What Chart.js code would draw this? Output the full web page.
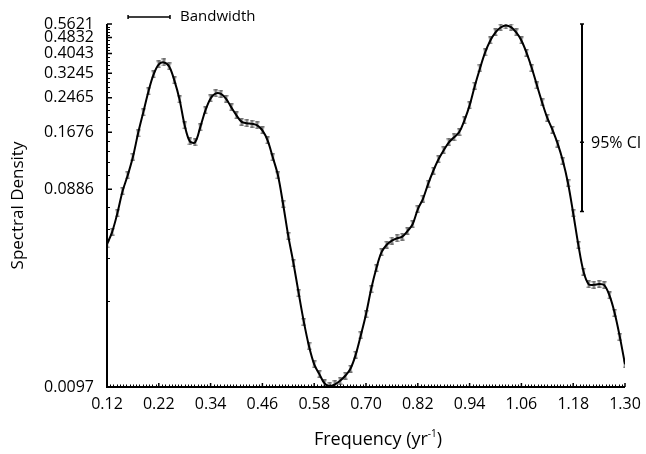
<!DOCTYPE html>
<html lang="en">
<head>
<meta charset="UTF-8">
<title>Spectral Density</title>
<script src="https://cdn.jsdelivr.net/npm/chart.js@4"></script>
<style>
    * { margin: 0; padding: 0; box-sizing: border-box; }
    body { background: #fff; width: 646px; height: 454px; overflow: hidden; }
    .chart-box { position: relative; width: 646px; height: 454px; }
</style>
</head>
<body>
<div class="chart-box"><canvas id="spectrum" width="646" height="454"></canvas></div>
<script>
// frequency grid (yr^-1)
const frequency = [
    0.1200, 0.1318, 0.1436, 0.1554, 0.1672, 0.1790, 0.1908, 0.2026, 0.2144, 0.2262,
    0.2380, 0.2498, 0.2616, 0.2734, 0.2852, 0.2970, 0.3088, 0.3206, 0.3324, 0.3442,
    0.3560, 0.3678, 0.3796, 0.3914, 0.4032, 0.4150, 0.4268, 0.4386, 0.4504, 0.4622,
    0.4740, 0.4858, 0.4976, 0.5094, 0.5212, 0.5330, 0.5448, 0.5566, 0.5684, 0.5802,
    0.5920, 0.6038, 0.6156, 0.6274, 0.6392, 0.6510, 0.6628, 0.6746, 0.6864, 0.6982,
    0.7100, 0.7218, 0.7336, 0.7454, 0.7572, 0.7690, 0.7808, 0.7926, 0.8044, 0.8162,
    0.8280, 0.8398, 0.8516, 0.8634, 0.8752, 0.8870, 0.8988, 0.9106, 0.9224, 0.9342,
    0.9460, 0.9578, 0.9696, 0.9814, 0.9932, 1.0050, 1.0168, 1.0286, 1.0404, 1.0522,
    1.0640, 1.0758, 1.0876, 1.0994, 1.1112, 1.1230, 1.1348, 1.1466, 1.1584, 1.1702,
    1.1820, 1.1938, 1.2056, 1.2174, 1.2292, 1.2410, 1.2528, 1.2646, 1.2764, 1.2882,
    1.3000
];

// spectral density
const density = [
    0.0479, 0.0550, 0.0677, 0.0866, 0.1035, 0.1270, 0.1655, 0.2092, 0.2645, 0.3198,
    0.3576, 0.3657, 0.3497, 0.2991, 0.2419, 0.1809, 0.1513, 0.1497, 0.1770, 0.2139,
    0.2446, 0.2587, 0.2572, 0.2433, 0.2212, 0.2023, 0.1882, 0.1854, 0.1840, 0.1809,
    0.1711, 0.1530, 0.1266, 0.1035, 0.0749, 0.0524, 0.0387, 0.0277, 0.0201, 0.0153,
    0.0125, 0.0112, 0.0101, 0.0098, 0.0100, 0.0104, 0.0110, 0.0119, 0.0139, 0.0173,
    0.0219, 0.0290, 0.0366, 0.0438, 0.0476, 0.0499, 0.0512, 0.0521, 0.0554, 0.0599,
    0.0708, 0.0796, 0.0941, 0.1089, 0.1238, 0.1369, 0.1497, 0.1583, 0.1679, 0.1913,
    0.2262, 0.2813, 0.3420, 0.4089, 0.4675, 0.5124, 0.5406, 0.5529, 0.5424, 0.5112,
    0.4675, 0.4071, 0.3439, 0.2829, 0.2339, 0.1968, 0.1721, 0.1475, 0.1217, 0.0947,
    0.0677, 0.0474, 0.0352, 0.0306, 0.0304, 0.0307, 0.0303, 0.0270, 0.0222, 0.0170,
    0.0125
];

const xTickValues = [0.12, 0.238, 0.356, 0.474, 0.592, 0.71, 0.828, 0.946, 1.064, 1.182, 1.30];
const xTickLabels = ['0.12', '0.22', '0.34', '0.46', '0.58', '0.70', '0.82', '0.94', '1.06', '1.18', '1.30'];
const yTickValues = [0.0097, 0.0886, 0.1676, 0.2465, 0.3245, 0.4043, 0.4832, 0.5621];
const yTickLabels = ['0.0097', '0.0886', '0.1676', '0.2465', '0.3245', '0.4043', '0.4832', '0.5621'];

// bandwidth span (frequency) and 95% CI bar (frequency, low / mid / high density)
const bandwidth = [0.168, 0.2635];
const ciFrequency = 1.202;
const ciBounds = [0.069, 0.150, 0.5621];

const FONT = '"Open Sans", "Noto Sans", sans-serif';

// little grey error bar drawn at every estimate
const errMark = document.createElement('canvas');
errMark.width = 5;
errMark.height = 8;
const em = errMark.getContext('2d');
em.fillStyle = '#707070';
em.fillRect(1.5, 0, 2, 8);
em.fillRect(0.5, 0, 4, 1.5);
em.fillRect(0.5, 6.5, 4, 1.5);

// axes with inward ticks + the annotations
const decorations = {
    id: 'decorations',
    afterDatasetsDraw(chart) {
        const ctx = chart.ctx;
        const xs = chart.scales.x, ys = chart.scales.y;
        const a = chart.chartArea;
        ctx.save();
        ctx.strokeStyle = '#000';

        // minor ticks
        ctx.lineWidth = 1;
        ctx.beginPath();
        for (let i = 0; i < yTickValues.length - 1; i++) {
            const step = (yTickValues[i + 1] - yTickValues[i]) / 5;
            for (let k = 1; k < 5; k++) {
                const y = Math.round(ys.getPixelForValue(yTickValues[i] + step * k)) + 0.5;
                ctx.moveTo(a.left, y);
                ctx.lineTo(a.left + 3, y);
            }
        }
        for (let i = 0; i < xTickValues.length - 1; i++) {
            const step = (xTickValues[i + 1] - xTickValues[i]) / 16;
            for (let k = 1; k < 16; k++) {
                const x = Math.round(xs.getPixelForValue(xTickValues[i] + step * k)) + 0.5;
                ctx.moveTo(x, a.bottom);
                ctx.lineTo(x, a.bottom - 2.5);
            }
        }
        ctx.stroke();

        // major ticks
        ctx.lineWidth = 1.5;
        ctx.beginPath();
        yTickValues.forEach(v => {
            const y = ys.getPixelForValue(v);
            ctx.moveTo(a.left, y);
            ctx.lineTo(a.left + 5, y);
        });
        xTickValues.forEach(v => {
            const x = xs.getPixelForValue(v);
            ctx.moveTo(x, a.bottom);
            ctx.lineTo(x, a.bottom - 4);
        });
        ctx.stroke();

        // axis lines
        ctx.lineWidth = 2;
        ctx.beginPath();
        ctx.moveTo(a.left, a.top);
        ctx.lineTo(a.left, a.bottom);
        ctx.lineTo(a.right, a.bottom);
        ctx.stroke();

        // bandwidth marker
        const bx0 = xs.getPixelForValue(bandwidth[0]);
        const bx1 = xs.getPixelForValue(bandwidth[1]);
        const by = a.top - 7;
        ctx.lineWidth = 1.5;
        ctx.beginPath();
        ctx.moveTo(bx0, by);
        ctx.lineTo(bx1, by);
        ctx.moveTo(bx0, by - 2);
        ctx.lineTo(bx0, by + 2);
        ctx.moveTo(bx1, by - 2);
        ctx.lineTo(bx1, by + 2);
        ctx.stroke();
        ctx.fillStyle = '#000';
        ctx.font = '15px ' + FONT;
        ctx.textBaseline = 'middle';
        ctx.textAlign = 'left';
        ctx.fillText('Bandwidth', bx1 + 10, by);

        // 95% CI bar
        const cx = xs.getPixelForValue(ciFrequency);
        const cLow = ys.getPixelForValue(ciBounds[0]);
        const cMid = ys.getPixelForValue(ciBounds[1]);
        const cHigh = ys.getPixelForValue(ciBounds[2]);
        ctx.lineWidth = 2;
        ctx.beginPath();
        ctx.moveTo(cx, cHigh);
        ctx.lineTo(cx, cLow);
        ctx.stroke();
        ctx.lineWidth = 1.5;
        ctx.beginPath();
        [cLow, cMid, cHigh].forEach(y => {
            ctx.moveTo(cx - 2, y);
            ctx.lineTo(cx + 2, y);
        });
        ctx.stroke();
        ctx.font = '16px ' + FONT;
        ctx.fillText('95% CI', cx + 9, cMid + 1);

        // x axis title with superscript
        const t1 = 'Frequency (yr', t2 = '-1', t3 = ')';
        ctx.font = '18px ' + FONT;
        const w1 = ctx.measureText(t1).width, w3 = ctx.measureText(t3).width;
        ctx.font = '10px ' + FONT;
        const w2 = ctx.measureText(t2).width;
        let tx = (a.left + a.right) / 2 + 12 - (w1 + w2 + w3) / 2;
        const ty = 440;
        ctx.font = '18px ' + FONT;
        ctx.fillText(t1, tx, ty);
        tx += w1;
        ctx.font = '10px ' + FONT;
        ctx.fillText(t2, tx, ty - 6);
        tx += w2;
        ctx.font = '18px ' + FONT;
        ctx.fillText(t3, tx, ty);
        ctx.restore();
    }
};

const points = frequency.map((f, i) => ({ x: f, y: density[i] }));

new Chart(document.getElementById('spectrum'), {
    type: 'line',
    data: {
        datasets: [{
            label: 'Spectral density',
            data: points,
            borderColor: '#000',
            borderWidth: 2,
            tension: 0.35,
            pointRadius: 0,
            order: 1
        }, {
            label: 'Error',
            data: points,
            showLine: false,
            pointStyle: errMark,
            pointRadius: 4,
            order: 2
        }]
    },
    options: {
        responsive: false,
        animation: false,
        devicePixelRatio: 1,
        layout: { padding: { top: 24, right: 21, bottom: 0, left: 0 } },
        plugins: { legend: { display: false }, tooltip: { enabled: false } },
        scales: {
            x: {
                type: 'linear',
                min: 0.12,
                max: 1.30,
                grid: { display: false },
                border: { display: false },
                afterBuildTicks: s => { s.ticks = xTickValues.map(v => ({ value: v })); },
                afterFit: s => { s.height = 67; },
                ticks: {
                    autoSkip: false,
                    maxRotation: 0,
                    padding: 0,
                    color: '#000',
                    font: { family: FONT, size: 16 },
                    callback: (v, i) => xTickLabels[i]
                }
            },
            y: {
                type: 'logarithmic',
                min: 0.0097,
                max: 0.5621,
                grid: { display: false },
                border: { display: false },
                afterBuildTicks: s => { s.ticks = yTickValues.map(v => ({ value: v })); },
                afterFit: s => { s.width = 107; },
                ticks: {
                    autoSkip: false,
                    padding: 5,
                    color: '#000',
                    font: { family: FONT, size: 16 },
                    callback: (v, i) => yTickLabels[i]
                },
                title: {
                    display: true,
                    text: 'Spectral Density',
                    color: '#000',
                    font: { family: FONT, size: 17 },
                    padding: { top: 8 }
                }
            }
        }
    },
    plugins: [decorations]
});
</script>
</body>
</html>
